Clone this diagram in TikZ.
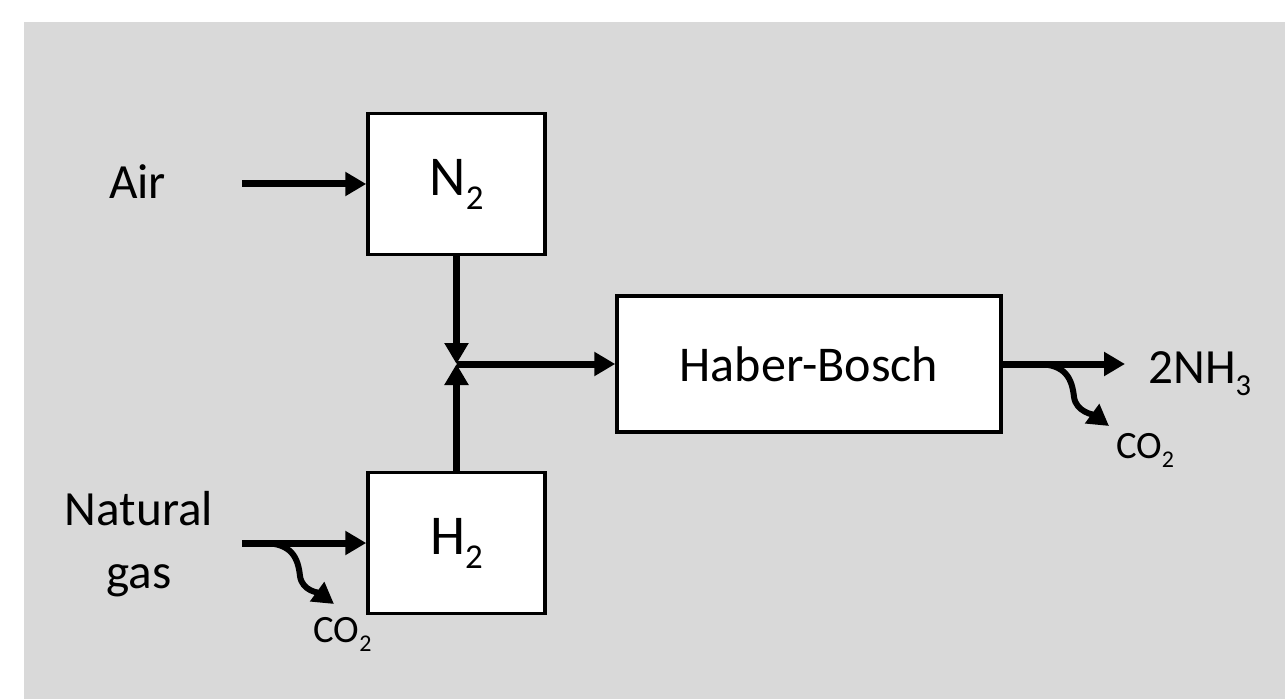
\documentclass[tikz,border=0pt]{standalone}
\usepackage{fontspec}
\setmainfont{Carlito}
\usepackage{xcolor}
\usetikzlibrary{arrows.meta, positioning}
\definecolor{fundo}{HTML}{D9D9D9}
\newcommand{\chemidx}[1]{\raisebox{-0.25em}{\scalebox{0.62}{#1}}}

\begin{document}
\begin{tikzpicture}
    \tikzstyle{box} = [rectangle, draw=black, fill=white, line width=0.07cm,
        minimum width=3.54cm, minimum height=2.82cm, font=\fontsize{32}{38}\selectfont]
    \tikzstyle{lbl} = [inner sep=0pt, font=\fontsize{28}{35.5}\selectfont, align=center]
    \tikzstyle{small} = [inner sep=0pt, font=\fontsize{22}{26}\selectfont]
    \tikzstyle{arrow} = [line width=0.14cm, -{Triangle[length=0.42cm, width=0.46cm]}]

    % margem branca em cima e à esquerda, fundo cinzento até ao canto
    \useasboundingbox (0,0) rectangle (25.7,-13.98);
    \fill[fundo] (0.48,-0.44) rectangle (25.7,-13.98);

    \node (n2) [box] at (9.13,-3.68) {N\chemidx{2}};
    \node (h2) [box] at (9.13,-10.86) {H\chemidx{2}};
    \node (hb) [box, minimum width=7.68cm, minimum height=2.72cm,
        font=\fontsize{28.5}{34}\selectfont] at (16.18,-7.28) {Haber-Bosch};

    \node (air) [lbl, anchor=base] at (2.75,-3.98) {Air};
    % a âncora base é a da última linha («gas»)
    \node (gas) [lbl, anchor=base] at (2.78,-11.76) {Natural\\gas};
    \node (nh3) [lbl, anchor=base west] at (22.96,-7.66) {2NH\chemidx{3}};
    \node (co2a) [small, anchor=base] at (6.85,-12.84) {CO\chemidx{2}};
    \node (co2b) [small, anchor=base] at (22.9,-9.16) {CO\chemidx{2}};

    \coordinate (airin) at (4.84,-3.68);
    \coordinate (gasin) at (4.84,-10.86);
    \coordinate (junc) at (n2 |- hb);
    \coordinate (out) at (22.5,-7.28);
    \coordinate (gassplit) at (5.26,-10.86);
    \coordinate (hbsplit) at (20.74,-7.28);

    \draw [arrow] (airin) -- (n2);
    \draw [arrow] (gasin) -- (h2);
    \draw [arrow] (n2) -- (junc);
    \draw [arrow] (h2) -- (junc);
    \draw [arrow] (junc) -- (hb);
    \draw [arrow] (hb) -- (out);

    % saídas de CO2 em curva
    \draw [arrow, line width=0.12cm] (gassplit) .. controls +(0.58,0) and +(-0.04,0.36) .. ++(0.74,-0.66)
        .. controls +(0.04,-0.3) and +(-0.3,0.22) .. ++(0.68,-0.56);
    \draw [arrow, line width=0.12cm] (hbsplit) .. controls +(0.58,0) and +(-0.04,0.36) .. ++(0.74,-0.66)
        .. controls +(0.04,-0.3) and +(-0.3,0.22) .. ++(0.7,-0.58);
\end{tikzpicture}
\end{document}
